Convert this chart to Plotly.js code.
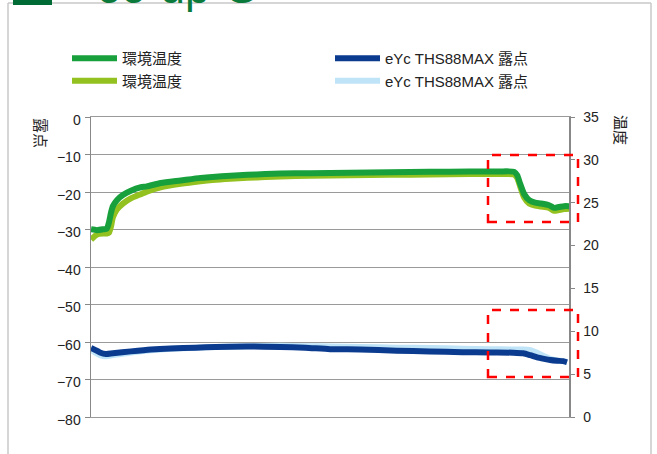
<!DOCTYPE html>
<html>
<head>
<meta charset="utf-8">
<script src="https://cdn.plot.ly/plotly-3.0.1.min.js"></script>
<style>html,body{margin:0;padding:0;background:#fff;}#chart{width:657px;height:454px;}</style>
</head>
<body>
<div id="chart"></div>
<script>
// elapsed time (minutes)
var tEnv = [0,6,12,16,18,20,22,26,32,40,50,56,70,90,110,122,140,157,175,190,220,260,300,340,380,410,425,428,431,435,440,446,452,460,465,470,475,480];
// 環境温度 (°C, right axis)
var envTemp1 = [21.9,21.8,21.9,22.0,22.7,23.8,24.6,25.3,25.9,26.4,26.8,26.9,27.3,27.6,27.9,28.0,28.15,28.25,28.35,28.4,28.45,28.5,28.55,28.6,28.65,28.65,28.6,28.2,27.2,26.0,25.3,25.0,24.9,24.7,24.4,24.5,24.6,24.6];
var envTemp2 = [20.7,21.3,21.4,21.4,21.5,22.2,23.3,24.2,24.9,25.5,26.0,26.3,26.8,27.2,27.5,27.65,27.8,27.9,28.0,28.05,28.15,28.2,28.25,28.3,28.35,28.35,28.3,27.9,26.9,25.6,24.9,24.65,24.55,24.4,24.05,24.15,24.25,24.3];
var tDew = [0,4,9,15,22,40,60,80,105,125,156,190,215,240,270,307,340,373,400,424,434,441,448,455,461,468,474,478];
// eYc THS88MAX 露点 (°C, left axis)
var dew1 = [-61.6,-62.1,-62.8,-63.2,-63.0,-62.5,-62.0,-61.7,-61.5,-61.3,-61.2,-61.3,-61.5,-61.9,-62.0,-62.3,-62.5,-62.7,-62.8,-62.85,-63.0,-63.5,-64.1,-64.5,-64.8,-65.0,-65.1,-65.4];
var dew2 = [-62.0,-62.8,-63.5,-63.8,-63.5,-62.8,-62.2,-61.8,-61.5,-61.3,-61.1,-61.0,-61.1,-61.2,-61.3,-61.5,-61.6,-61.8,-61.9,-62.0,-62.0,-62.2,-62.9,-63.8,-64.5,-64.9,-65.1,-65.3];
var names = ['環境温度','環境温度','eYc THS88MAX 露点','eYc THS88MAX 露点'];
var leftTickVals = [0,-10,-20,-30,-40,-50,-60,-70,-80];
var leftTickText = ['0','\u221210','\u221220','\u221230','\u221240','\u221250','\u221260','\u221270','\u221280'];
var rightTickVals = [0,5,10,15,20,25,30,35];
var leftTitle = '露点', rightTitle = '温度', bannerText = 'oo-up-G';

var FONT = '"Liberation Sans", Arial, "Noto Sans CJK JP", sans-serif';
var cDG = '#17a03c', cLG = '#93c11f', cDB = '#0b3b8f', cLB = '#bfe4f7';

var traces = [
  {x:tDew, y:dew2, name:names[3], yaxis:'y', mode:'lines', line:{color:cLB, width:6, shape:'spline', smoothing:0.6}, legendrank:4},
  {x:tEnv, y:envTemp2, name:names[1], yaxis:'y2', mode:'lines', line:{color:cLG, width:6, shape:'spline', smoothing:0.6}, legendrank:3},
  {x:tDew, y:dew1, name:names[2], yaxis:'y', mode:'lines', line:{color:cDB, width:6, shape:'spline', smoothing:0.6}, legendrank:2},
  {x:tEnv, y:envTemp1, name:names[0], yaxis:'y2', mode:'lines', line:{color:cDG, width:6, shape:'spline', smoothing:0.6}, legendrank:1}
];

// paper helpers (plot area: x 91..569, y 117..417)
function px(v){return (v-91)/478;}
function py(v){return (417-v)/300;}

var layout = {
  width:657, height:454,
  margin:{l:91, r:88, t:117, b:37},
  paper_bgcolor:'#fff', plot_bgcolor:'#fff',
  font:{family:FONT, size:14, color:'#222'},
  showlegend:true,
  legend:{orientation:'h', x:px(67), y:py(42), xanchor:'left', yanchor:'top',
          entrywidth:203, entrywidthmode:'pixels', itemwidth:45, tracegroupgap:0,
          font:{size:15, color:'#222'}, bgcolor:'rgba(0,0,0,0)', traceorder:'normal'},
  xaxis:{range:[0,480], showticklabels:false, ticks:'', showgrid:false, zeroline:false,
         showline:true, mirror:true, linecolor:'#9a9a9a', linewidth:1},
  yaxis:{range:[-80,0], tickmode:'array', tickvals:leftTickVals, ticktext:leftTickText, ticks:'outside', ticklen:5, tickcolor:'#888',
         showline:true, linecolor:'#888', linewidth:1.5, gridcolor:'#9a9a9a', gridwidth:1, zeroline:false,
         tickfont:{size:14, color:'#222'}, ticklabelshift:3, ticklabelstandoff:1},
  yaxis2:{range:[0,35], tickmode:'array', tickvals:rightTickVals, overlaying:'y', side:'right', ticks:'outside', ticklen:4, tickcolor:'#888',
          showline:true, linecolor:'#888', linewidth:1.5, showgrid:false, zeroline:false,
          tickfont:{size:14, color:'#222'}, ticklabelstandoff:6},
  shapes:[
    {type:'rect', xref:'paper', yref:'paper', x0:px(488), x1:px(578), y0:py(222), y1:py(155),
     line:{color:'#ff0000', width:2.5, dash:'dash'}, fillcolor:'rgba(0,0,0,0)'},
    {type:'rect', xref:'paper', yref:'paper', x0:px(488), x1:px(578), y0:py(377), y1:py(310),
     line:{color:'#ff0000', width:2.5, dash:'dash'}, fillcolor:'rgba(0,0,0,0)'},
    {type:'line', xref:'paper', yref:'paper', x0:px(8), x1:px(8), y0:py(3), y1:py(460), line:{color:'#c8c8c8', width:1.5}, layer:'below'},
    {type:'line', xref:'paper', yref:'paper', x0:px(8), x1:px(651), y0:py(3), y1:py(3), line:{color:'#c8c8c8', width:1.5}, layer:'below'},
    {type:'line', xref:'paper', yref:'paper', x0:px(651), x1:px(651), y0:py(3), y1:py(460), line:{color:'#c8c8c8', width:1.5}, layer:'below'},
    {type:'rect', xref:'paper', yref:'paper', x0:px(13), x1:px(52), y0:py(5), y1:py(-3), line:{width:0}, fillcolor:'#006b35'}
  ],
  annotations:[
    {text:leftTitle, xref:'paper', yref:'paper', x:px(40), y:py(116), xanchor:'center', yanchor:'top',
     textangle:90, showarrow:false, font:{size:15, color:'#222'}},
    {text:rightTitle, xref:'paper', yref:'paper', x:px(620), y:py(113), xanchor:'center', yanchor:'top',
     textangle:90, showarrow:false, font:{size:15, color:'#222'}},
    {text:bannerText, xref:'paper', yref:'paper', x:px(95), y:py(14), xanchor:'left', yanchor:'bottom',
     showarrow:false, font:{size:44, color:'#0a7a3a', family:'"Liberation Sans", Arial, sans-serif'}}
  ]
};

Plotly.newPlot('chart', traces, layout, {displayModeBar:false, staticPlot:true});
</script>
</body>
</html>
